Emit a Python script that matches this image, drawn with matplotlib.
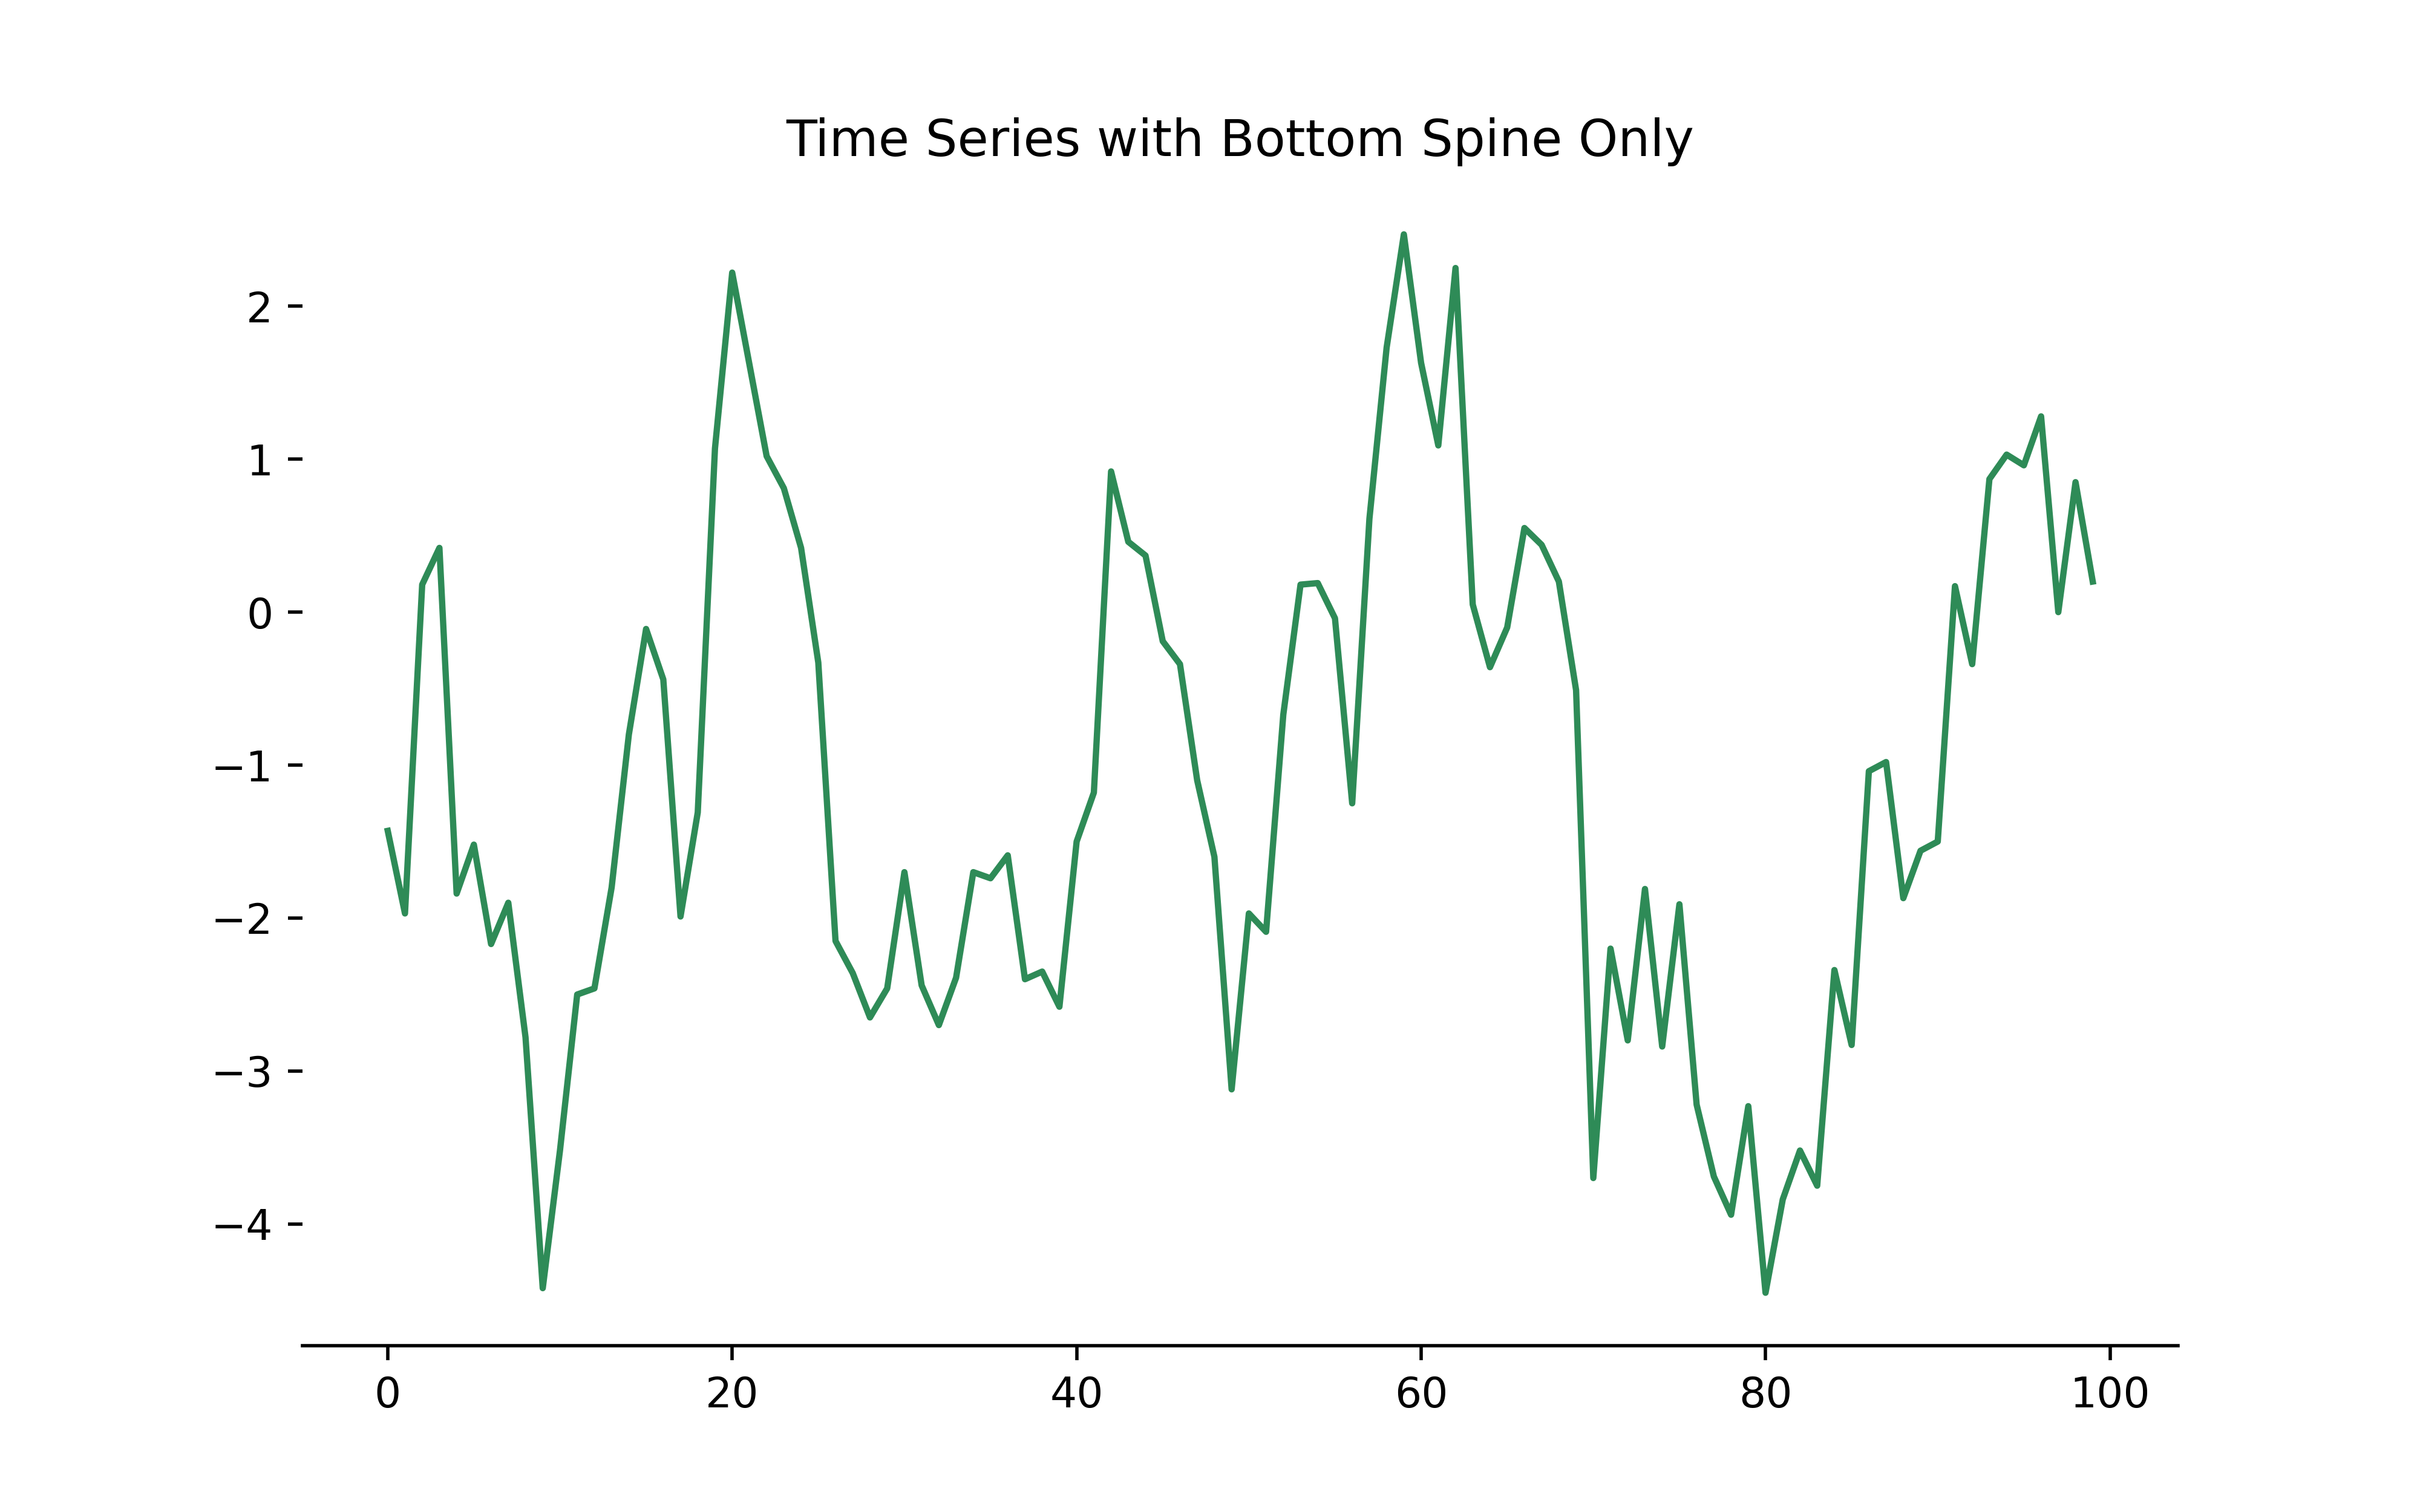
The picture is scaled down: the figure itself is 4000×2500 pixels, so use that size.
import matplotlib
matplotlib.use("Agg")
import matplotlib.pyplot as plt
import numpy as np

# values, one per time step (0..99)
values = [
    -1.43, -1.97, 0.18, 0.42, -1.84, -1.52, -2.17, -1.90, -2.78, -4.42,
    -3.52, -2.50, -2.46, -1.80, -0.80, -0.11, -0.44, -1.99, -1.31, 1.07,
    2.22, 1.62, 1.02, 0.81, 0.42, -0.33, -2.15, -2.36, -2.65, -2.46,
    -1.70, -2.44, -2.70, -2.39, -1.70, -1.74, -1.59, -2.40, -2.35, -2.58,
    -1.50, -1.18, 0.92, 0.46, 0.37, -0.19, -0.34, -1.10, -1.60, -3.12,
    -1.97, -2.09, -0.67, 0.18, 0.19, -0.04, -1.25, 0.61, 1.73, 2.47,
    1.63, 1.09, 2.25, 0.05, -0.36, -0.10, 0.55, 0.44, 0.20, -0.51,
    -3.70, -2.20, -2.80, -1.81, -2.84, -1.91, -3.22, -3.69, -3.94, -3.23,
    -4.45, -3.84, -3.52, -3.75, -2.34, -2.83, -1.04, -0.98, -1.87, -1.56,
    -1.50, 0.17, -0.34, 0.87, 1.03, 0.96, 1.28, 0.00, 0.85, 0.20,
]
steps = np.arange(len(values))

fig, ax = plt.subplots(figsize=(8, 5), dpi=500)
ax.plot(steps, values, color="seagreen", lw=1.5)
ax.set_title("Time Series with Bottom Spine Only")

# keep only the bottom spine
for side in ["top", "right", "left"]:
    ax.spines[side].set_visible(False)

fig.savefig("out.png")
